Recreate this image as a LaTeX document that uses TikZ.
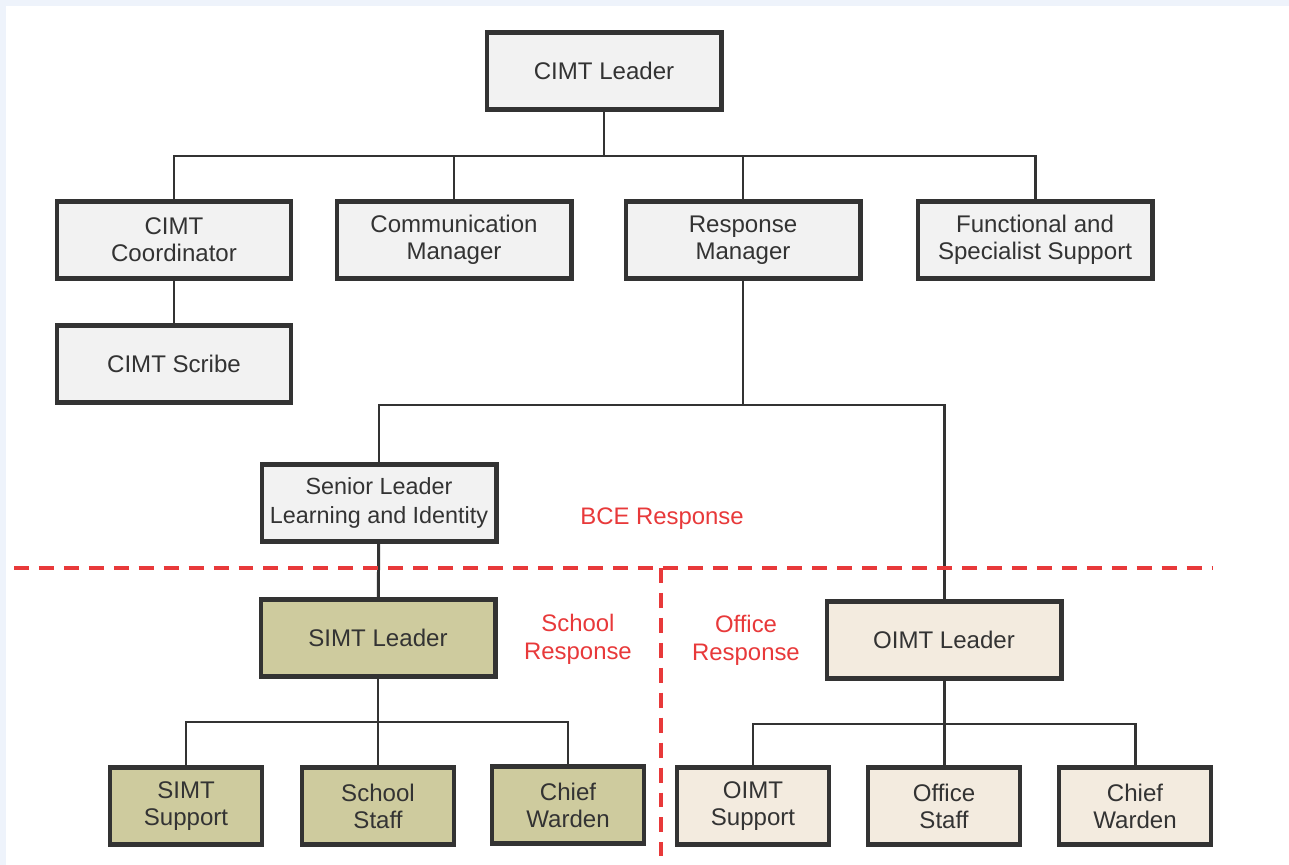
\documentclass[tikz,border=0pt]{standalone}
\usepackage{fontspec}
\setmainfont{Liberation Sans}
\definecolor{boxgray}{HTML}{F2F2F2}
\definecolor{boxolive}{HTML}{CECB9E}
\definecolor{boxbeige}{HTML}{F3EBDF}
\definecolor{edgedark}{HTML}{333333}
\definecolor{linered}{HTML}{E8393A}
\definecolor{pageblue}{HTML}{EEF3FB}
\tikzset{
  role/.style={draw=edgedark, line width=2.3pt, fill=boxgray, minimum width=4.7cm,
    minimum height=1.54cm, align=center, text=edgedark, font=\fontsize{13.7}{15.3}\selectfont},
  small/.style={role, minimum width=3.04cm},
  school/.style={fill=boxolive},
  office/.style={fill=boxbeige},
  link/.style={draw=edgedark, line width=1.7pt},
  zone/.style={draw=linered, line width=2pt, dash pattern=on 8.5pt off 5.7pt},
  zonetext/.style={text=linered, align=center, font=\fontsize{13.6}{15.9}\selectfont}
}
\begin{document}
\begin{tikzpicture}[x=0.02cm,y=-0.02cm]
\fill[pageblue] (0,0) rectangle (1289,865);
\fill[white] (6,6) rectangle (1289,865);
\useasboundingbox (0,0) rectangle (1289,865);
\node[role] (lead) at (604,71) {CIMT Leader};
\node[role] (coord) at (174,240) {CIMT\\Coordinator};
\node[role] (comm) at (454,240) {Communication\\Manager};
\node[role] (resp) at (743,240) {Response\\Manager};
\node[role] (fss) at (1035,240) {Functional and\\Specialist Support};
\node[role] (scribe) at (174,364) {CIMT Scribe};
\node[role,font=\fontsize{13.3}{16.4}\selectfont] (senior) at (379,503) {Senior Leader\\Learning and Identity};
\node[role,school] (simt) at (378,638) {SIMT Leader};
\node[role,office] (oimt) at (944,640) {OIMT Leader};
\node[small,school] (ssup) at (186,806) {SIMT\\Support};
\node[small,school] (sstaff) at (378,806) {School\\Staff};
\node[small,school] (swarden) at (568,805) {Chief\\Warden};
\node[small,office] (osup) at (753,806) {OIMT\\Support};
\node[small,office] (ostaff) at (944,806) {Office\\Staff};
\node[small,office] (owarden) at (1135,806) {Chief\\Warden};
\coordinate (top) at (604,156);
\coordinate (mid) at (743,405);
\coordinate (sbus) at (378,722);
\coordinate (obus) at (944,724);
\draw[link] (lead.south) -- (top);
\draw[link] (coord.north) -- (coord.north |- top) -- (fss.north |- top) -- (fss.north);
\draw[link] (comm.north) -- (comm.north |- top);
\draw[link] (resp.north) -- (resp.north |- top);
\draw[link] (coord) -- (scribe);
\draw[link] (resp.south) -- (mid);
\draw[link] (senior.north) -- (senior.north |- mid) -- (oimt.north |- mid) -- (oimt.north);
\draw[link] (senior) -- (simt);
\draw[link] (simt.south) -- (sbus);
\draw[link] (ssup.north) -- (ssup.north |- sbus) -- (swarden.north |- sbus) -- (swarden.north);
\draw[link] (sstaff.north) -- (sstaff.north |- sbus);
\draw[link] (oimt.south) -- (obus);
\draw[link] (osup.north) -- (osup.north |- obus) -- (owarden.north |- obus) -- (owarden.north);
\draw[link] (ostaff.north) -- (ostaff.north |- obus);
\draw[zone] (14,568) -- (1212,568);
\draw[zone] (661,568) -- (661,856);
\node[zonetext] (bce) at (662,519) {BCE Response};
\node[zonetext] (schoolresp) at (578,639) {School\\Response};
\node[zonetext] (officeresp) at (746,640) {Office\\Response};
\end{tikzpicture}
\end{document}
